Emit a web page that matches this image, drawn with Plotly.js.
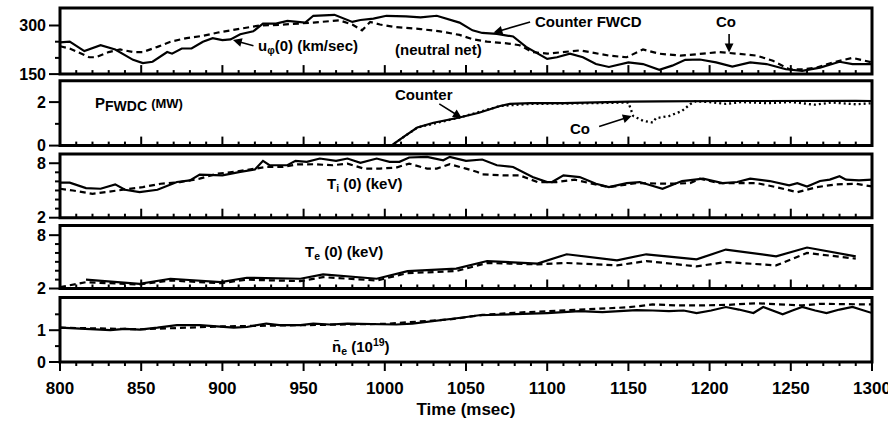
<!DOCTYPE html>
<html>
<head>
<meta charset="utf-8">
<script src="https://cdn.plot.ly/plotly-3.0.1.min.js"></script>
<style>html,body{margin:0;padding:0;background:#fff;}#chart{width:888px;height:425px;}</style>
</head>
<body>
<div id="chart"></div>
<script>
// ---- Data ----
// Panel 1: toroidal rotation u_phi(0), km/sec
const T_UPHI_CTR = [800,806,815,825,834,845,851,857,866,869,875,881,888,894,900,905,911,919,925,933,940,945,951,956,969,980,985,993,1001,1013,1022,1032,1038,1046,1054,1060,1069,1079,1087,1094,1100,1106,1114,1122,1130,1138,1150,1159,1169,1177,1185,1194,1204,1214,1225,1235,1247,1257,1268,1280,1288,1300];
const UPHI_CTR = [248,250,221,239,226,194,184,188,218,213,229,229,250,261,255,257,273,282,306,306,314,311,309,330,333,311,317,321,330,328,325,330,321,309,285,277,274,266,234,213,197,202,213,202,181,172,186,181,163,176,194,195,186,173,186,181,165,160,170,188,181,181];
const T_UPHI_CO = [800,806,818,822,830,837,845,851,860,868,878,888,898,911,923,935,948,956,972,980,986,991,997,1005,1022,1034,1046,1054,1063,1075,1083,1091,1100,1110,1120,1126,1138,1149,1159,1169,1182,1196,1206,1217,1229,1239,1249,1257,1266,1276,1288,1300];
const UPHI_CO = [236,229,202,202,218,226,218,218,234,250,261,268,279,289,300,302,306,309,316,303,285,311,303,296,289,282,271,258,250,245,239,218,213,218,223,218,207,202,226,213,207,213,218,213,207,191,165,165,170,186,200,186];

// Panel 2: FWCD power, MW
const T_P_CTR = [800,1004,1012,1020,1030,1046,1058,1071,1077,1090,1110,1130,1150,1170,1190,1210,1230,1250,1270,1290,1300];
const P_CTR = [0,0,0.42,0.83,1.05,1.29,1.51,1.82,1.92,1.95,1.95,2.0,2.02,2.03,2.05,2.05,2.05,2.06,2.05,2.06,2.05];
const T_P_CO = [800,1004,1020,1046,1071,1090,1110,1130,1150,1153,1159,1165,1167,1175,1183,1188,1191,1200,1210,1220,1235,1250,1265,1275,1290,1300];
const P_CO = [0,0,0.83,1.29,1.82,1.92,1.93,1.97,1.98,1.36,1.14,1.06,1.26,1.36,1.59,1.9,2.03,2.0,1.92,2.0,1.95,2.0,1.88,1.98,1.9,1.95];

// Panel 3: Ti(0), keV
const T_TI_CTR = [800,806,816,825,834,840,849,860,872,880,886,894,900,911,920,925,929,940,945,952,960,970,977,985,995,1003,1009,1015,1026,1036,1040,1050,1060,1069,1079,1091,1100,1103,1110,1120,1130,1138,1149,1157,1171,1183,1196,1208,1217,1225,1237,1249,1254,1260,1268,1274,1280,1284,1292,1300];
const TI_CTR = [5.86,5.86,5.26,5.19,5.67,5.08,4.81,5.08,5.93,6.11,6.74,6.74,6.67,7.04,7.3,8.26,7.78,7.78,8.26,8.15,8.52,8.26,8.52,8.04,8.52,8.15,8.15,8.63,8.7,8.33,8.7,8.26,8.41,7.78,7.59,6.48,5.93,5.93,6.67,6.48,5.74,5.37,5.81,5.93,5.19,6.04,6.3,5.81,5.93,6.3,6.04,5.56,5.81,5.44,6.04,6.19,6.56,6.19,6.11,6.19];
const T_TI_CO = [800,808,820,833,841,851,862,874,886,897,907,919,927,937,946,956,968,977,987,997,1007,1015,1026,1032,1040,1050,1057,1060,1073,1083,1094,1106,1117,1126,1138,1155,1175,1188,1194,1206,1220,1229,1241,1254,1266,1278,1290,1300];
const TI_CO = [5.19,5.0,4.63,4.93,5.08,5.37,5.74,5.93,6.3,6.85,7.04,7.41,7.59,7.59,7.87,7.89,7.78,7.96,7.41,7.41,7.52,7.96,7.41,7.41,7.89,7.41,7.04,6.78,6.67,6.67,5.93,5.93,6.19,5.81,5.37,5.81,5.74,5.81,6.3,5.81,5.81,5.81,5.37,4.81,5.37,5.67,5.74,5.44];

// Panel 4: Te(0), keV
const T_TE_CTR = [816,849,868,899,915,948,962,995,1014,1044,1063,1094,1112,1143,1161,1192,1210,1241,1260,1290];
const TE_CTR = [2.99,2.53,3.1,2.71,3.21,3.1,3.58,3.1,3.96,4.23,5.09,4.8,5.85,5.17,5.85,5.28,6.38,5.62,6.61,5.62];
const T_TE_CO = [800,816,849,868,899,915,948,962,995,1014,1044,1063,1094,1112,1143,1161,1192,1210,1241,1260,1290];
const TE_CO = [2.15,2.71,2.45,2.9,2.6,2.99,2.83,3.28,2.9,3.73,3.96,4.87,4.72,4.87,4.6,5.09,4.49,4.98,4.6,6.0,5.36];

// Panel 5: line-averaged density, 10^19
const T_NE_CTR = [800,810,820,831,840,849,860,872,886,895,907,915,927,935,948,956,966,977,987,997,1007,1017,1028,1038,1048,1058,1068,1079,1090,1100,1110,1120,1134,1145,1155,1165,1175,1184,1192,1201,1210,1218,1227,1233,1239,1245,1251,1257,1265,1272,1280,1288,1293,1300];
const NE_CTR = [1.08,1.05,1.04,1.0,1.04,1.02,1.08,1.16,1.16,1.12,1.08,1.1,1.21,1.16,1.16,1.21,1.18,1.21,1.2,1.21,1.18,1.21,1.27,1.33,1.4,1.47,1.48,1.5,1.52,1.54,1.58,1.6,1.57,1.6,1.63,1.62,1.6,1.62,1.54,1.62,1.73,1.65,1.54,1.73,1.62,1.5,1.62,1.73,1.62,1.54,1.65,1.73,1.65,1.54];
const T_NE_CO = [800,850,900,950,1000,1040,1060,1080,1100,1120,1134,1150,1165,1180,1196,1212,1229,1245,1257,1268,1285,1300];
const NE_CO = [1.08,1.03,1.12,1.17,1.2,1.34,1.48,1.55,1.6,1.66,1.68,1.72,1.81,1.78,1.78,1.8,1.85,1.8,1.78,1.83,1.82,1.81];

// Tick values
const X_TICKS = [800,850,900,950,1000,1050,1100,1150,1200,1250,1300];
const X_MINOR_STEP = 10;
const Y_TICKS = [[150,300],[0,2],[2,8],[2,8],[0,1]];
const Y_MINOR = [[200,250],[1],[3,4,5,6,7],[3,4,5,6,7],[0.5,1.5]];

// ---- Layout geometry ----
const W = 888, H = 425, ML = 60, MR = 16, MT = 8, MB = 63;
const PLOT_W = W - ML - MR, PLOT_H = H - MT - MB;
const X_RANGE = [800, 1300];
const DOMAINS = [[0.8133, 1.0], [0.6113, 0.7944], [0.4076, 0.5879], [0.2076, 0.3859], [0.0, 0.1823]];
const RANGES = [[150, 354], [0, 2.98], [2, 9.03], [2, 9.1], [0, 2.03]];

// ---- Styling ----
const FONT = 'Liberation Sans, Arial, sans-serif';
const solid = {color:'#000', width:2.2};
const dashed = {color:'#000', width:2.2, dash:'6px,4px'};
const dotted = {color:'#000', width:2.3, dash:'2px,3px'};
const SUF = ['', '2', '3', '4', '5'];

function tr(x, y, ax, line){
  return {x:x, y:y, xaxis:'x'+ax, yaxis:'y'+ax, mode:'lines', line:line, hoverinfo:'skip', showlegend:false};
}
const data = [
  tr(T_UPHI_CO, UPHI_CO, '', dashed),
  tr(T_UPHI_CTR, UPHI_CTR, '', solid),
  tr(T_P_CO, P_CO, '2', dotted),
  tr(T_P_CTR, P_CTR, '2', solid),
  tr(T_TI_CO, TI_CO, '3', dashed),
  tr(T_TI_CTR, TI_CTR, '3', solid),
  tr(T_TE_CO, TE_CO, '4', dashed),
  tr(T_TE_CTR, TE_CTR, '4', solid),
  tr(T_NE_CO, NE_CO, '5', dashed),
  tr(T_NE_CTR, NE_CTR, '5', solid)
];

function xax(anchor, bottom){
  return {
    domain:[0,1], anchor:anchor, range:X_RANGE, showgrid:false, zeroline:false,
    showline:false, ticks:'', tickmode:'array', tickvals:X_TICKS,
    showticklabels: !!bottom, ticklabeloverflow:'allow', ticklabelstandoff:14,
    tickfont:{family:FONT, size:17, color:'#000', weight:'bold'}
  };
}
function yax(anchor, i){
  return {
    domain:DOMAINS[i], anchor:anchor, range:RANGES[i], showgrid:false, zeroline:false,
    showline:false, ticks:'', tickmode:'array', tickvals:Y_TICKS[i],
    ticklabelstandoff:13,
    tickfont:{family:FONT, size:16, color:'#000', weight:'bold'}
  };
}

const layout = {
  width:W, height:H,
  margin:{l:ML, r:MR, t:MT, b:MB},
  paper_bgcolor:'#fff', plot_bgcolor:'#fff',
  font:{family:FONT, color:'#000', weight:'bold'},
  xaxis: xax('y', false),
  xaxis2: xax('y2', false),
  xaxis3: xax('y3', false),
  xaxis4: xax('y4', false),
  xaxis5: Object.assign(xax('y5', true), {title:{text:'Time (msec)', font:{family:FONT, size:17, color:'#000', weight:'bold'}, standoff:6}}),
  yaxis:  yax('x', 0),
  yaxis2: yax('x2', 1),
  yaxis3: yax('x3', 2),
  yaxis4: yax('x4', 3),
  yaxis5: yax('x5', 4),
  shapes: [],
  annotations: []
};

// Frames and tick marks (axis decoration, unclipped paper coordinates derived from the axis settings)
function xPaper(t){ return (t - X_RANGE[0]) / (X_RANGE[1] - X_RANGE[0]); }
function yPaper(i, v){ return DOMAINS[i][0] + (v - RANGES[i][0]) / (RANGES[i][1] - RANGES[i][0]) * (DOMAINS[i][1] - DOMAINS[i][0]); }
const shapes = [];
SUF.forEach(function(s, i){
  const bottom = (i === 4);
  const yb = DOMAINS[i][0];
  for (let t = X_TICKS[0]; t <= X_TICKS[X_TICKS.length-1]; t += X_MINOR_STEP) {
    const major = X_TICKS.indexOf(t) >= 0;
    const f = (major ? 9 : 4) / PLOT_H;
    const xp = xPaper(t);
    shapes.push({type:'line', layer:'above', xref:'paper', yref:'paper',
      x0:xp, x1:xp, y0:yb, y1: bottom ? yb - f : yb + f, line:{color:'#000', width:2}});
  }
  Y_TICKS[i].forEach(function(v){
    const yp = yPaper(i, v);
    shapes.push({type:'line', layer:'above', xref:'paper', yref:'paper',
      x0:0, x1:-11/PLOT_W, y0:yp, y1:yp, line:{color:'#000', width:2}});
  });
  Y_MINOR[i].forEach(function(v){
    const yp = yPaper(i, v);
    shapes.push({type:'line', layer:'above', xref:'paper', yref:'paper',
      x0:0, x1:-5/PLOT_W, y0:yp, y1:yp, line:{color:'#000', width:2}});
  });
  shapes.push({type:'rect', layer:'above', xref:'x'+s+' domain', yref:'y'+s+' domain', x0:0, x1:1, y0:0, y1:1,
    line:{color:'#000', width:3}, fillcolor:'rgba(0,0,0,0)'});
});
layout.shapes = shapes;

const AF = {family:FONT, size:15, color:'#000', weight:'bold'};
function txt(text, x, y, ax, xanchor, size){
  return {text:text, x:x, y:y, xref:'x'+ax, yref:'y'+ax, xanchor:xanchor||'left', yanchor:'middle', showarrow:false, font:Object.assign({}, AF, size?{size:size}:{})};
}
function arrow(x, y, ax, dx, dy){
  return {text:'', x:x, y:y, xref:'x'+ax, yref:'y'+ax, showarrow:true, ax:dx, ay:dy, arrowhead:2, arrowsize:1.1, arrowwidth:1.6, arrowcolor:'#000', standoff:0, startstandoff:0};
}
layout.annotations = [
  txt('u<sub>φ</sub>(0) (km/sec)', 920.6, 234, ''),
  txt('(neutral net)', 1005, 227, ''),
  txt('Counter FWCD', 1091, 313, ''),
  txt('Co', 1210, 313, '', 'center'),
  arrow(906.5, 255, '', 22, 6),
  arrow(1067, 278, '', 38, -11),
  arrow(1212, 217, '', 0, -20),
  txt('P<sub><span style="font-size:14px">FWDC</span></sub> <span style="font-size:13px">(MW)</span>', 820.3, 1.9, '2'),
  txt('Counter', 1024, 2.36, '2', 'center'),
  txt('Co', 1120, 0.77, '2', 'center'),
  arrow(1047.4, 1.27, '2', -24, -15),
  arrow(1152, 1.36, '2', -34, 11),
  txt('T<sub>i</sub> (0) (keV)', 963, 5.7, '3'),
  txt('T<sub>e</sub> (0) (keV)', 949.5, 6.0, '4'),
  txt('n\u0304<sub>e</sub> (10<sup>19</sup>)', 966, 0.5, '5')
];

Plotly.newPlot('chart', data, layout, {staticPlot:true, displayModeBar:false});
</script>
</body>
</html>
